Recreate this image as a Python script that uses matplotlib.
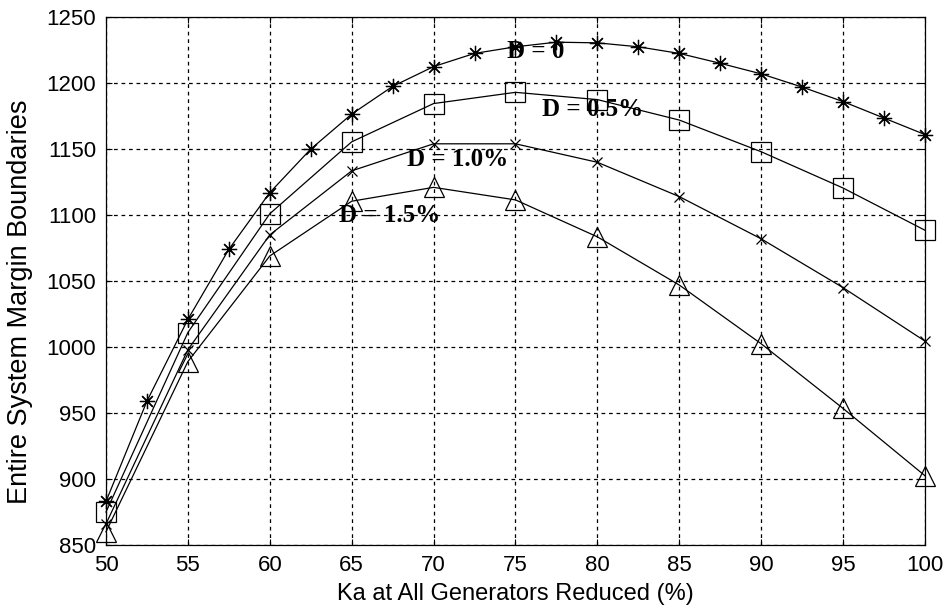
import matplotlib
matplotlib.use("Agg")
import matplotlib.pyplot as plt
import numpy as np

# Data
x_d0 = [50, 52.5, 55, 57.5, 60, 62.5, 65, 67.5, 70, 72.5, 75, 77.5, 80, 82.5, 85, 87.5, 90, 92.5, 95, 97.5, 100]
y_d0 = [883, 959, 1021, 1074, 1117, 1150, 1176.5, 1197.5, 1212.5, 1222.5, 1227.5, 1231, 1230.5, 1227.5, 1222.5, 1215, 1207, 1197, 1186, 1173.5, 1161]
x_5 = [50, 55, 60, 65, 70, 75, 80, 85, 90, 95, 100]
y_d05 = [875, 1011, 1101, 1155.5, 1184.5, 1193, 1187.5, 1172, 1148, 1120.5, 1088.5]
y_d10 = [866, 998, 1085, 1133.5, 1154, 1154, 1140, 1114, 1082, 1045, 1004.5]
y_d15 = [860, 989, 1069, 1110.5, 1121, 1111.5, 1083.5, 1047, 1002.5, 953.5, 902.5]

labels = ["D = 0", "D = 0.5%", "D = 1.0%", "D = 1.5%"]
label_pos = [(74.5, 1224), (76.6, 1180), (68.4, 1142), (64.2, 1100)]

xticks = list(range(50, 101, 5))
yticks = list(range(850, 1251, 50))

fig = plt.figure(figsize=(9.48, 6.11), dpi=100)
ax = fig.add_axes([0.1118, 0.108, 0.8639, 0.864])

lw = 0.9
kw = dict(color='black', lw=lw, mew=0.9, clip_on=False, zorder=3)
ax.plot(x_d0, y_d0, marker=(8, 2, 0), ms=11, **kw)
ax.plot(x_5, y_d05, marker='s', ms=14, mfc='none', **kw)
ax.plot(x_5, y_d10, marker='x', ms=7, **kw)
ax.plot(x_5, y_d15, marker='^', ms=15, mfc='none', **kw)

for lab, (px, py) in zip(labels, label_pos):
    ax.text(px, py, lab, ha='left', va='center', fontsize=18, fontweight='bold',
            family='Liberation Serif', color='black', zorder=4)

ax.set_xlim(50, 100)
ax.set_ylim(850, 1250)
ax.set_xticks(xticks)
ax.set_yticks(yticks)
ax.grid(True, color='black', linestyle=(0, (3, 3)), linewidth=0.9)
ax.tick_params(direction='in', top=True, right=True, length=4, labelsize=16, pad=7)
for lab in ax.get_xticklabels() + ax.get_yticklabels():
    lab.set_family('Liberation Sans')
for s in ax.spines.values():
    s.set_linewidth(0.9)

ax.set_xlabel('Ka at All Generators Reduced (%)', fontsize=17, family='Liberation Sans', labelpad=5)
ax.set_ylabel('Entire System Margin Boundaries', fontsize=19.5, family='Liberation Sans')
ax.yaxis.set_label_coords(-0.089, 0.46)

fig.savefig('out.png', dpi=100)
